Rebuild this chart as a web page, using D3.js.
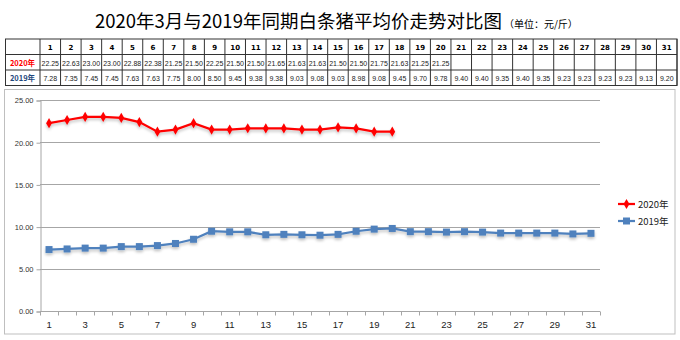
<!DOCTYPE html>
<html><head><meta charset="utf-8">
<script src="https://cdn.jsdelivr.net/npm/d3@7/dist/d3.min.js"></script>
<style>body{margin:0;background:#fff;}svg{display:block;}</style>
</head><body>
<script>
const days = d3.range(1, 32);
const values2020 = [22.25,22.63,23.00,23.00,22.88,22.38,21.25,21.50,22.25,21.50,21.50,21.65,21.63,21.63,21.50,21.50,21.75,21.63,21.25,21.25];
const values2019 = [7.28,7.35,7.45,7.45,7.63,7.63,7.75,8.00,8.50,9.45,9.38,9.38,9.03,9.08,9.03,8.98,9.08,9.45,9.70,9.78,9.40,9.40,9.35,9.40,9.35,9.23,9.23,9.23,9.23,9.13,9.20];
const seriesNames = ["2020年","2019年"];
const yTicks = [0,5,10,15,20,25];
const title = "2020年3月与2019年同期白条猪平均价走势对比图";
const unit = "（单位：元/斤）";

const W = 680, H = 340;
const svg = d3.select("body").append("svg").attr("width", W).attr("height", H);
const cjk = "'Noto Sans CJK SC', 'Noto Sans', sans-serif";

// title
const t = svg.append("text").attr("x", 95).attr("y", 28).attr("font-family", cjk).attr("fill", "#000");
t.append("tspan").attr("font-size", 18.5).text(title);
t.append("tspan").attr("font-size", 10).attr("dx", 2).text(unit);

// table
const tx = d3.scaleBand().domain(days).range([40, 677]);
const rowsY = [39, 54.5, 70, 85.5];
const tbl = svg.append("g");
tbl.append("rect").attr("x", 5.5).attr("y", rowsY[0]).attr("width", 677 - 5.5).attr("height", rowsY[3] - rowsY[0])
  .attr("fill", "none").attr("stroke", "#333").attr("stroke-width", 1);
rowsY.slice(1, 3).forEach(y => tbl.append("line").attr("x1", 5.5).attr("x2", 677).attr("y1", y).attr("y2", y).attr("stroke", "#333"));
[40, ...days.map(d => tx(d) + tx.bandwidth())].forEach(x =>
  tbl.append("line").attr("x1", x).attr("x2", x).attr("y1", rowsY[0]).attr("y2", rowsY[3]).attr("stroke", "#333"));
const fnt = "'DejaVu Sans', Verdana, sans-serif";
days.forEach(d => {
  const cx = tx(d) + tx.bandwidth() / 2;
  tbl.append("text").attr("x", cx).attr("y", 50).attr("text-anchor", "middle").attr("font-family", fnt)
    .attr("font-weight", "bold").attr("font-size", 7).text(d);
  if (d <= values2020.length)
    tbl.append("text").attr("x", cx).attr("y", 65.5).attr("text-anchor", "middle").attr("font-family", "'Liberation Sans', Arial, sans-serif")
      .attr("font-size", 7).attr("fill", "#222").text(values2020[d - 1].toFixed(2));
  tbl.append("text").attr("x", cx).attr("y", 81).attr("text-anchor", "middle").attr("font-family", "'Liberation Sans', Arial, sans-serif")
    .attr("font-size", 7).attr("fill", "#222").text(values2019[d - 1].toFixed(2));
});
tbl.append("text").attr("x", 22.5).attr("y", 65.5).attr("text-anchor", "middle").attr("font-family", cjk)
  .attr("font-weight", "bold").attr("font-size", 7.5).attr("fill", "#FF0000").text(seriesNames[0]);
tbl.append("text").attr("x", 22.5).attr("y", 81).attr("text-anchor", "middle").attr("font-family", cjk)
  .attr("font-weight", "bold").attr("font-size", 7.5).attr("fill", "#1F497D").text(seriesNames[1]);

// chart frame
svg.append("rect").attr("x", 4.5).attr("y", 89.5).attr("width", 670.5).attr("height", 244.5)
  .attr("fill", "#fff").attr("stroke", "#BFBFBF").attr("stroke-width", 1);

const x = d3.scaleBand().domain(days).range([40, 600]);
const y = d3.scaleLinear().domain([0, 25]).range([311, 100]);

// gridlines
svg.append("g").selectAll("line").data(yTicks.filter(v => v > 0)).join("line")
  .attr("x1", 40).attr("x2", 600).attr("y1", d => Math.round(y(d)) + 0.5).attr("y2", d => Math.round(y(d)) + 0.5)
  .attr("stroke", "#A6A6A6").attr("stroke-width", 1);

// y axis
const yAxis = svg.append("g").attr("transform", "translate(40.5,0.5)")
  .call(d3.axisLeft(y).tickValues(yTicks).tickFormat(d3.format(".2f")).tickSize(4).tickPadding(3));
yAxis.select(".domain").attr("stroke", "#A6A6A6");
yAxis.selectAll(".tick line").attr("stroke", "#A6A6A6");
yAxis.selectAll("text").attr("font-family", "'Liberation Sans', Arial, sans-serif").attr("font-size", 7.5).attr("fill", "#333");

// x axis
const xg = svg.append("g").attr("transform", "translate(0,311.5)");
xg.append("line").attr("x1", 40).attr("x2", 600).attr("stroke", "#A6A6A6");
xg.selectAll(".tk").data([0, ...days]).join("line").attr("class", "tk")
  .attr("x1", d => d === 0 ? 40.5 : Math.round(x(d) + x.bandwidth()) + 0.5)
  .attr("x2", d => d === 0 ? 40.5 : Math.round(x(d) + x.bandwidth()) + 0.5)
  .attr("y1", 0).attr("y2", 4).attr("stroke", "#A6A6A6");
xg.selectAll("text").data(days.filter(d => d % 2 === 1)).join("text")
  .attr("x", d => x(d) + x.bandwidth() / 2).attr("y", 16).attr("text-anchor", "middle")
  .attr("font-family", "'Liberation Sans', Arial, sans-serif").attr("font-size", 9.5).attr("fill", "#222").text(d => d);

// shadow filter
const defs = svg.append("defs");
const f = defs.append("filter").attr("id", "sh").attr("x", "-10%").attr("y", "-50%").attr("width", "120%").attr("height", "200%");
f.append("feGaussianBlur").attr("in", "SourceAlpha").attr("stdDeviation", 1.5).attr("result", "b");
f.append("feOffset").attr("in", "b").attr("dx", 0).attr("dy", 2).attr("result", "o");
f.append("feComponentTransfer").attr("in", "o").attr("result", "o2").append("feFuncA").attr("type", "linear").attr("slope", 0.25);
const m = f.append("feMerge"); m.append("feMergeNode").attr("in", "o2"); m.append("feMergeNode").attr("in", "SourceGraphic");

const cx = d => x(d) + x.bandwidth() / 2;
const line = d3.line().x((v, i) => cx(i + 1)).y(v => y(v));

const red = "#FF0000", blue = "#4F81BD";
const g20 = svg.append("g").attr("filter", "url(#sh)");
g20.append("path").attr("d", line(values2020)).attr("fill", "none").attr("stroke", red).attr("stroke-width", 2.25);
g20.selectAll("path.m").data(values2020).join("path").attr("class", "m")
  .attr("transform", (v, i) => `translate(${cx(i + 1)},${y(v)})`)
  .attr("d", d3.symbol(d3.symbolDiamond, 30)).attr("fill", red);

const g19 = svg.append("g").attr("filter", "url(#sh)");
g19.append("path").attr("d", line(values2019)).attr("fill", "none").attr("stroke", blue).attr("stroke-width", 2.25);
g19.selectAll("rect").data(values2019).join("rect")
  .attr("x", (v, i) => cx(i + 1) - 3.5).attr("y", v => y(v) - 3.5).attr("width", 7).attr("height", 7).attr("fill", blue);

// legend
const lg = svg.append("g");
[[seriesNames[0], red, "d", 204], [seriesNames[1], blue, "s", 221]].forEach(([name, c, k, ly]) => {
  lg.append("line").attr("x1", 618).attr("x2", 635).attr("y1", ly).attr("y2", ly).attr("stroke", c).attr("stroke-width", 2.25);
  if (k === "d") lg.append("path").attr("transform", `translate(626.5,${ly})`).attr("d", d3.symbol(d3.symbolDiamond, 30)).attr("fill", c);
  else lg.append("rect").attr("x", 623).attr("y", ly - 3.5).attr("width", 7).attr("height", 7).attr("fill", c);
  lg.append("text").attr("x", 638).attr("y", ly + 3.5).attr("font-family", cjk).attr("font-size", 9.5).attr("fill", "#222").text(name);
});
</script>
</body></html>
